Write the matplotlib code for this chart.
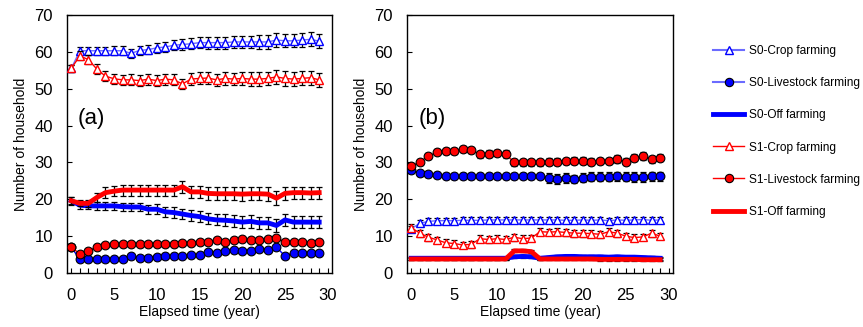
import matplotlib
matplotlib.use("Agg")
import matplotlib.pyplot as plt
from matplotlib.lines import Line2D

plt.rcParams['font.family'] = ['Liberation Sans', 'DejaVu Sans']

years = list(range(30))

# ---- Panel (a) ----
a_s0_crop = [55.5, 60.3, 60.3, 60.3, 60.3, 60.3, 60.3, 59.6, 60.4, 60.6, 61.1, 61.3, 61.8, 62.0, 62.2,
             62.5, 62.5, 62.5, 62.5, 62.7, 62.7, 62.7, 62.7, 62.7, 63.2, 63.0, 63.0, 63.2, 63.4, 62.9]
a_s1_crop = [55.5, 58.9, 57.9, 55.3, 53.4, 52.7, 52.4, 52.4, 52.2, 52.6, 52.2, 52.6, 52.4, 51.3, 52.6,
             52.8, 52.9, 52.4, 52.8, 52.6, 52.8, 52.6, 52.6, 52.8, 53.2, 52.8, 52.6, 52.8, 53.0, 52.4]
a_s0_live = [7.0, 3.7, 3.9, 3.7, 3.7, 3.9, 3.9, 4.6, 4.1, 4.1, 4.3, 4.6, 4.7, 4.6, 5.0,
             5.0, 5.8, 5.5, 6.1, 6.3, 6.1, 6.1, 6.6, 6.3, 7.0, 4.6, 5.5, 5.5, 5.3, 5.4]
a_s1_live = [7.0, 5.2, 6.1, 7.1, 7.5, 7.8, 7.8, 7.9, 8.0, 7.9, 8.0, 7.8, 8.0, 8.2, 8.2,
             8.3, 8.4, 9.0, 8.5, 9.0, 9.1, 9.0, 9.0, 9.3, 9.5, 8.4, 8.4, 8.4, 8.2, 8.4]
a_s0_off = [19.6, 18.4, 18.2, 18.2, 18.2, 18.2, 18.0, 17.9, 17.9, 17.3, 17.3, 16.6, 16.4, 16.0, 15.6,
            15.3, 14.7, 14.4, 14.3, 14.1, 13.8, 14.0, 13.6, 13.6, 12.9, 14.4, 13.8, 13.8, 13.8, 13.8]
a_s1_off = [19.6, 18.9, 18.9, 20.5, 21.8, 22.2, 22.5, 22.5, 22.5, 22.5, 22.5, 22.5, 22.5, 23.4, 22.0,
            22.0, 21.6, 21.5, 21.5, 21.5, 21.4, 21.5, 21.5, 21.4, 20.3, 21.6, 21.8, 21.8, 21.7, 21.8]

a_err_s0_crop = [1.0, 1.0, 1.1, 1.1, 1.1, 1.2, 1.2, 1.2, 1.3, 1.3, 1.4, 1.4, 1.4, 1.5, 1.5,
                 1.5, 1.6, 1.6, 1.6, 1.7, 1.7, 1.7, 1.8, 1.8, 1.9, 1.8, 1.8, 1.9, 1.9, 1.9]
a_err_s1_crop = [1.0, 1.2, 1.3, 1.3, 1.4, 1.4, 1.4, 1.5, 1.5, 1.5, 1.5, 1.5, 1.5, 1.4, 1.6,
                 1.6, 1.7, 1.7, 1.7, 1.7, 1.7, 1.8, 1.8, 1.8, 2.0, 2.0, 1.9, 1.9, 1.9, 1.9]
a_err_s0_live = [0.5] * 30
a_err_s1_live = [0.5] * 30
a_err_s0_off = [1.0, 0.9, 0.9, 1.0, 1.0, 1.0, 1.1, 1.1, 1.2, 1.2, 1.3, 1.3, 1.4, 1.4, 1.4,
                1.5, 1.5, 1.5, 1.6, 1.6, 1.7, 1.7, 1.7, 1.7, 1.8, 1.7, 1.6, 1.6, 1.6, 1.6]
a_err_s1_off = [1.1, 0.8, 0.9, 1.2, 1.4, 1.4, 1.5, 1.5, 1.5, 1.5, 1.5, 1.5, 1.5, 1.6, 1.6,
                1.6, 1.7, 1.7, 1.8, 1.8, 1.8, 1.8, 1.8, 1.8, 1.9, 1.7, 1.6, 1.6, 1.6, 1.6]

# ---- Panel (b) ----
b_s0_crop = [12.0, 13.5, 14.0, 14.2, 14.2, 14.2, 14.3, 14.3, 14.3, 14.4, 14.4, 14.4, 14.4, 14.4, 14.4,
             14.4, 14.4, 14.4, 14.3, 14.3, 14.4, 14.3, 14.4, 14.2, 14.4, 14.3, 14.4, 14.5, 14.3, 14.4]
b_s1_crop = [12.3, 10.8, 9.7, 9.0, 8.2, 8.0, 7.6, 7.8, 9.3, 9.1, 9.3, 9.1, 9.7, 9.3, 9.5,
             11.2, 11.1, 11.2, 11.0, 10.8, 10.8, 10.7, 10.5, 11.2, 10.8, 10.0, 9.6, 9.8, 10.8, 10.0]
b_s0_live = [28.0, 27.0, 26.8, 26.6, 26.4, 26.3, 26.3, 26.3, 26.3, 26.3, 26.3, 26.3, 26.3, 26.3, 26.3,
             26.3, 25.7, 25.5, 25.7, 25.5, 25.9, 26.1, 26.1, 26.1, 26.2, 26.1, 26.1, 26.0, 26.2, 26.2]
b_s1_live = [29.0, 30.2, 31.7, 32.8, 33.2, 33.2, 33.6, 33.4, 32.2, 32.4, 32.6, 32.3, 30.0, 30.0, 30.0,
             30.0, 30.2, 30.2, 30.4, 30.5, 30.5, 30.2, 30.4, 30.4, 30.9, 30.2, 31.3, 31.7, 30.8, 31.3]
b_s0_off = [4.0, 4.0, 4.0, 4.0, 4.0, 4.0, 4.0, 4.0, 4.0, 4.0, 4.0, 4.0, 4.4, 4.5, 4.4,
            4.0, 4.2, 4.4, 4.5, 4.5, 4.4, 4.4, 4.4, 4.3, 4.4, 4.3, 4.3, 4.2, 4.1, 4.0]
b_s1_off = [3.8, 3.8, 3.8, 3.8, 3.8, 3.8, 3.8, 3.8, 3.8, 3.8, 3.8, 3.8, 6.0, 6.0, 5.8,
            3.8, 3.8, 3.8, 3.8, 3.8, 3.8, 3.8, 3.7, 3.7, 3.7, 3.7, 3.7, 3.6, 3.6, 3.6]

b_err_s0_crop = [0.8] * 30
b_err_s1_crop = [0.9] * 30
b_err_s0_live = [1.0, 0.8, 0.8, 0.8, 0.8, 0.8, 0.8, 0.8, 0.8, 0.8, 0.8, 0.8, 0.9, 0.9, 0.9,
                 0.9, 1.4, 1.4, 1.4, 1.2, 1.2, 1.2, 1.2, 1.2, 1.2, 1.2, 1.3, 1.3, 1.3, 1.3]
b_err_s1_live = [0.8, 0.8, 0.8, 0.8, 0.8, 0.8, 0.8, 0.8, 0.9, 0.9, 0.9, 1.0, 0.9, 0.9, 0.9,
                 0.9, 0.9, 0.9, 0.9, 0.9, 0.9, 0.9, 0.9, 0.9, 1.0, 0.9, 1.0, 1.0, 1.0, 1.0]
b_err_s0_off = [0.4] * 30
b_err_s1_off = [0.4] * 30

labels = ["S0-Crop farming", "S0-Livestock farming", "S0-Off farming",
          "S1-Crop farming", "S1-Livestock farming", "S1-Off farming"]

BLUE = '#0000ff'
RED = '#ff0000'
LBLUE = '#6b6bff'


def draw_panel(ax, data, errs, tag):
    styles = [
        dict(color=LBLUE, lw=1.0, marker='^', ms=6, mfc='white', mec=BLUE, mew=1.0),
        dict(color=BLUE, lw=1.0, marker='o', ms=6.3, mfc=BLUE, mec='black', mew=0.8),
        dict(color=BLUE, lw=3.5, marker=None),
        dict(color=RED, lw=1.0, marker='^', ms=6, mfc='white', mec=RED, mew=1.0),
        dict(color=RED, lw=1.0, marker='o', ms=6.3, mfc=RED, mec='black', mew=0.8),
        dict(color=RED, lw=3.5, marker=None),
    ]
    for i, (y, e, st) in enumerate(zip(data, errs, styles)):
        z = 3 + i * 0.1
        ax.errorbar(years, y, yerr=e, fmt='none', ecolor='black', elinewidth=0.9,
                    capsize=2.5, capthick=0.9, zorder=z)
        ax.plot(years, y, zorder=z + 0.05, **st)
    ax.set_xlim(-0.5, 30.5)
    ax.set_ylim(0, 70)
    ax.set_xticks(range(0, 31, 5))
    ax.set_xticks(range(0, 31, 1), minor=True)
    ax.set_yticks(range(0, 71, 10))
    ax.tick_params(axis='both', which='both', direction='in', labelsize=12, length=3.5, width=0.8)
    ax.tick_params(axis='y', pad=10)
    ax.tick_params(axis='x', pad=11)
    ax.set_xlabel("Elapsed time (year)", fontsize=10, labelpad=1)
    ax.set_ylabel("Number of household", fontsize=10, labelpad=5)
    ax.text(0.8, 42, tag, fontsize=16, va='center', ha='left')
    for s in ax.spines.values():
        s.set_linewidth(1.0)


fig = plt.figure(figsize=(8.63, 3.27), dpi=100)
ax1 = fig.add_axes([67 / 863, 1 - 273 / 327, (332 - 67) / 863, (273 - 15) / 327])
ax2 = fig.add_axes([407 / 863, 1 - 273 / 327, (673 - 407) / 863, (273 - 15) / 327])

draw_panel(ax1, [a_s0_crop, a_s0_live, a_s0_off, a_s1_crop, a_s1_live, a_s1_off],
           [a_err_s0_crop, a_err_s0_live, a_err_s0_off, a_err_s1_crop, a_err_s1_live, a_err_s1_off], "(a)")
draw_panel(ax2, [b_s0_crop, b_s0_live, b_s0_off, b_s1_crop, b_s1_live, b_s1_off],
           [b_err_s0_crop, b_err_s0_live, b_err_s0_off, b_err_s1_crop, b_err_s1_live, b_err_s1_off], "(b)")

handles = [
    Line2D([], [], color=LBLUE, lw=1.5, marker='^', ms=6, mfc='white', mec=BLUE),
    Line2D([], [], color=LBLUE, lw=1.5, marker='o', ms=6, mfc=BLUE, mec='black', mew=0.8),
    Line2D([], [], color=BLUE, lw=3.5),
    Line2D([], [], color=RED, lw=1.0, marker='^', ms=6, mfc='white', mec=RED),
    Line2D([], [], color=RED, lw=1.0, marker='o', ms=6, mfc=RED, mec='black', mew=0.8),
    Line2D([], [], color=RED, lw=3.5),
]
fig.legend(handles, labels, loc='upper left', bbox_to_anchor=(705 / 863, 1 - 37 / 327),
           frameon=False, fontsize=8.6, handlelength=2.6, handletextpad=0.4,
           labelspacing=1.68, borderpad=0.2)

fig.savefig("out.png", dpi=100)
